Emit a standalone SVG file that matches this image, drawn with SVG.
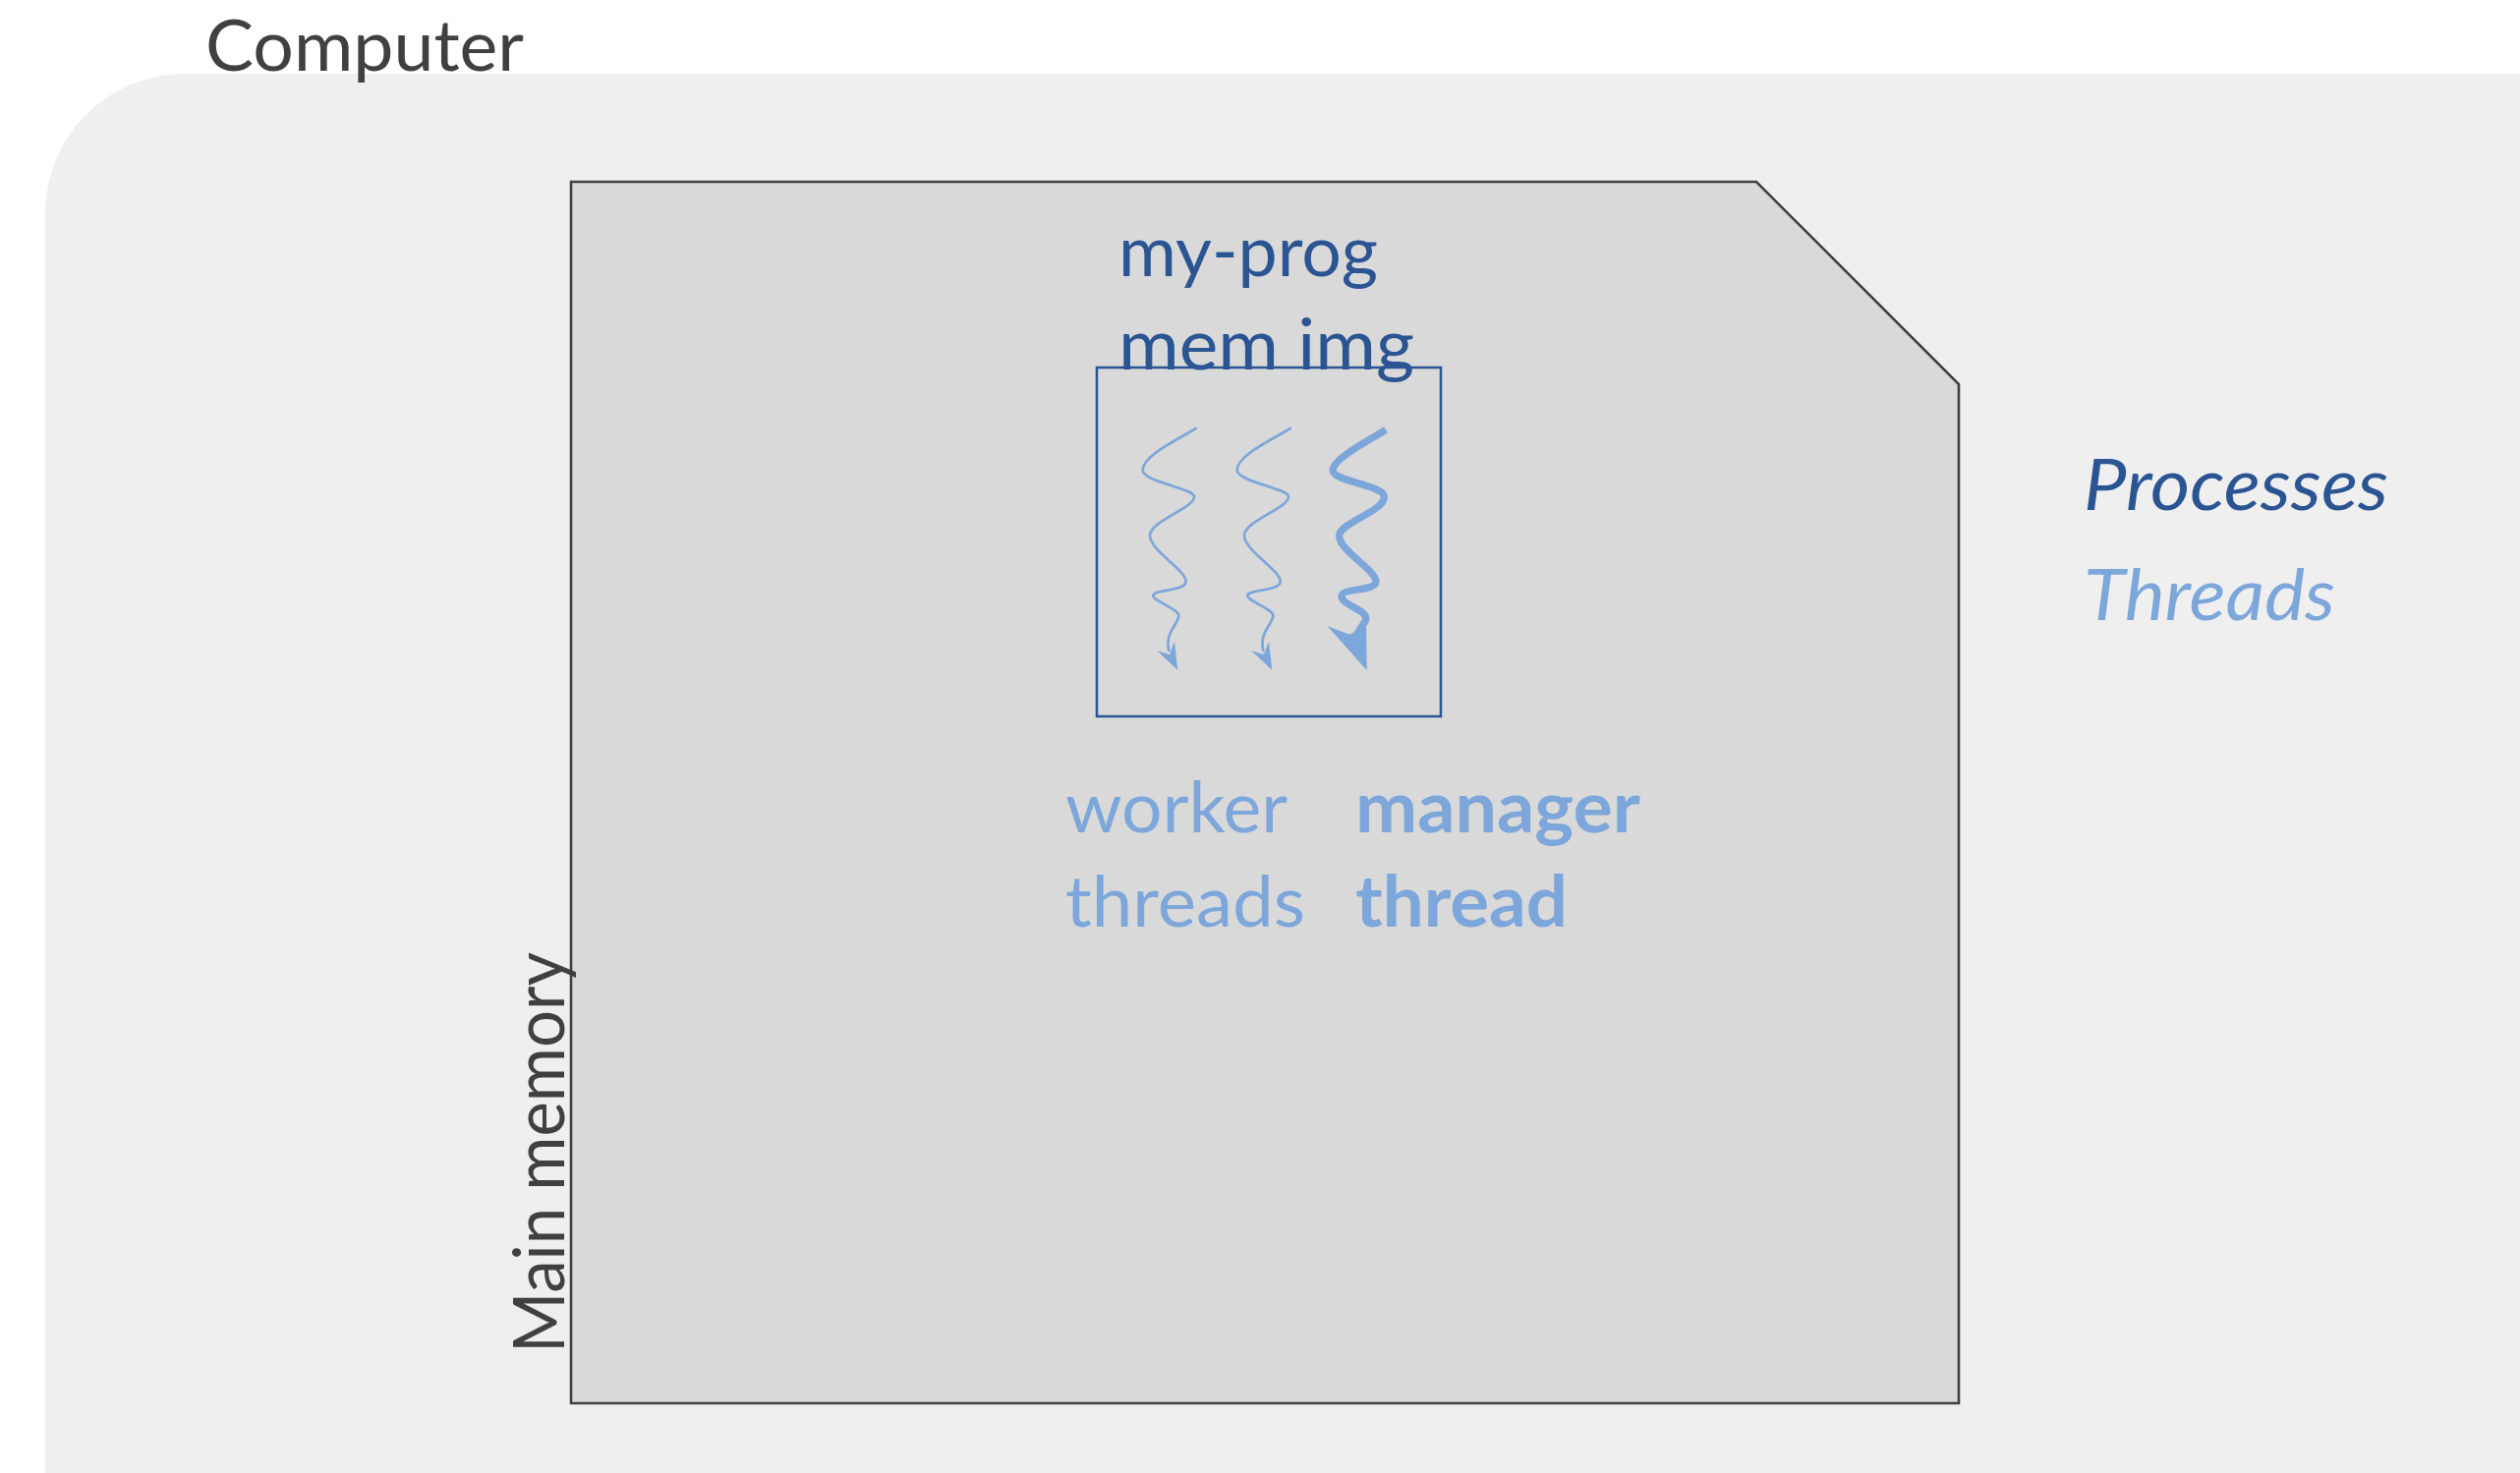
<svg xmlns="http://www.w3.org/2000/svg" width="2564" height="1499" viewBox="0 0 2564 1499">
<style>
.t{font-family:Lato,"Open Sans","Liberation Sans",sans-serif;font-size:72px}
.gray{fill:#404040}
.dk{fill:#2B5592}
.lt{fill:#7DA6DA}
.wk{fill:none;stroke:#7DA6DA;stroke-width:2.7;stroke-linecap:round}
.mg{fill:none;stroke:#7DA6DA;stroke-width:7.3;stroke-linecap:butt}
.ah{fill:#7DA6DA}
</style>
<rect width="2564" height="1499" fill="#FFFFFF"/>
<g id="computer">
<path d="M46,1499 L46,217 A142,142 0 0 1 188,75 L2564,75 L2564,1499 Z" fill="#EFEFEF"/>
<text class="t gray" x="209" y="72" font-size="73" textLength="324" lengthAdjust="spacingAndGlyphs">Computer</text>
</g>
<g id="main-memory">
<polygon points="581,185 1787,185 1993,391 1993,1428 581,1428" fill="#D9D9D9" stroke="#404040" stroke-width="2.6"/>
<text class="t gray" transform="translate(574,1377) rotate(-90)" font-size="66" textLength="408" lengthAdjust="spacingAndGlyphs">Main memory</text>
</g>
<g id="my-prog">
<rect x="1116" y="374" width="350" height="355" fill="none" stroke="#2B5592" stroke-width="2.5"/>
<text class="t dk" x="1138" y="281" textLength="264" lengthAdjust="spacingAndGlyphs">my-prog</text>
<text class="t dk" x="1138" y="376" textLength="301" lengthAdjust="spacingAndGlyphs">mem img</text>
</g>
<g id="threads">
<g id="worker-1">
<path class="wk" d="M1216.7,436 C1196.7,448.3 1163.3,463.3 1162.7,478.3 C1162,490 1213.3,496.7 1215,505 C1216.7,516.7 1170,530 1170,545 C1170,560 1206.7,580 1206.7,591.7 C1206.7,601.7 1173.3,600 1173.3,606 C1173.3,611.7 1200,620 1199.3,626.7 C1198.3,636.7 1185,643.3 1189.3,662"/>
<polygon class="ah" points="1177.3,662.3 1198.3,682 1195,652.7 1190,666"/>
</g>
<g id="worker-2" transform="translate(96,0)">
<path class="wk" d="M1216.7,436 C1196.7,448.3 1163.3,463.3 1162.7,478.3 C1162,490 1213.3,496.7 1215,505 C1216.7,516.7 1170,530 1170,545 C1170,560 1206.7,580 1206.7,591.7 C1206.7,601.7 1173.3,600 1173.3,606 C1173.3,611.7 1200,620 1199.3,626.7 C1198.3,636.7 1185,643.3 1189.3,662"/>
<polygon class="ah" points="1177.3,662.3 1198.3,682 1195,652.7 1190,666"/>
</g>
<g id="manager">
<path class="mg" d="M1410,437.3 C1390,450 1356.7,466.7 1356,478.3 C1355.3,490 1406.7,493.3 1408.3,505 C1410,520 1363.3,531.7 1362.7,545 C1362,560 1400,580 1400,591.7 C1400,601.7 1365,598.3 1365,606.7 C1365,616.7 1393.3,620 1389.3,631.7 L1381,645"/>
<polygon class="ah" points="1350.7,637.3 1390.7,682.3 1390,636 1373.3,645.7"/>
</g>
</g>
<g id="labels">
<text class="t lt" x="1084" y="847" textLength="226" lengthAdjust="spacingAndGlyphs">worker</text>
<text class="t lt" x="1084" y="943" textLength="244" lengthAdjust="spacingAndGlyphs">threads</text>
<text class="t lt" x="1379" y="847" font-weight="bold" textLength="290" lengthAdjust="spacingAndGlyphs">manager</text>
<text class="t lt" x="1379" y="943" font-weight="bold" textLength="216" lengthAdjust="spacingAndGlyphs">thread</text>
</g>
<g id="legend">
<text class="t dk" x="2120" y="519" font-style="italic" textLength="310" lengthAdjust="spacingAndGlyphs">Processes</text>
<text class="t lt" x="2120" y="631" font-style="italic" textLength="256" lengthAdjust="spacingAndGlyphs">Threads</text>
</g>
</svg>
